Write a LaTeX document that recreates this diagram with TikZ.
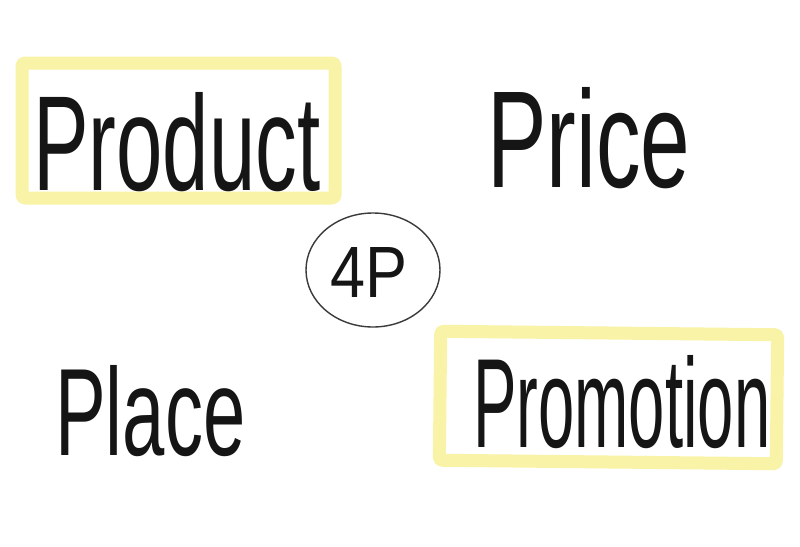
\documentclass[tikz,border=0pt]{standalone}
\usepackage{fontspec}
\setmainfont{Liberation Sans}
\usetikzlibrary{shapes.geometric}
\definecolor{hlyellow}{HTML}{F8F3A6}
\definecolor{ink}{HTML}{151515}
\definecolor{circleink}{HTML}{3A3A3A}
\tikzset{
  hlbox/.style={draw=hlyellow, line width=13pt, rounded corners=3pt, inner sep=0pt, line join=round},
  word/.style={anchor=base west, inner sep=0pt, text=ink},
  ring/.style={draw=circleink, line width=1.4pt, ellipse, inner sep=0pt}
}
\begin{document}
\begin{tikzpicture}[x=1pt,y=-1pt]
  \useasboundingbox[fill=white] (0,0) rectangle (800,546);
  % highlight boxes
  \node[hlbox, minimum width=313pt, minimum height=135pt] (productbox) at (178.5,130.5) {};
  \node[hlbox, minimum width=337pt, minimum height=129pt, rotate=-0.6] (promobox) at (608.5,397.5) {};
  % centre ring
  \node[ring, minimum width=134pt, minimum height=114pt] (ring) at (373,270) {};
  % words
  \node[word] (product) at (33,190) {\resizebox{287pt}{98pt}{Product}};
  \node[word] (price) at (487,187) {\resizebox{203pt}{100pt}{Price}};
  \node[word] (place) at (55,455) {\resizebox{190pt}{90pt}{Place}};
  \node[word] (promotion) at (473,447) {\resizebox{297pt}{92pt}{Promotion}};
  \node[word] (fourp) at (330,297) {\resizebox{77pt}{50pt}{4P}};
\end{tikzpicture}
\end{document}
